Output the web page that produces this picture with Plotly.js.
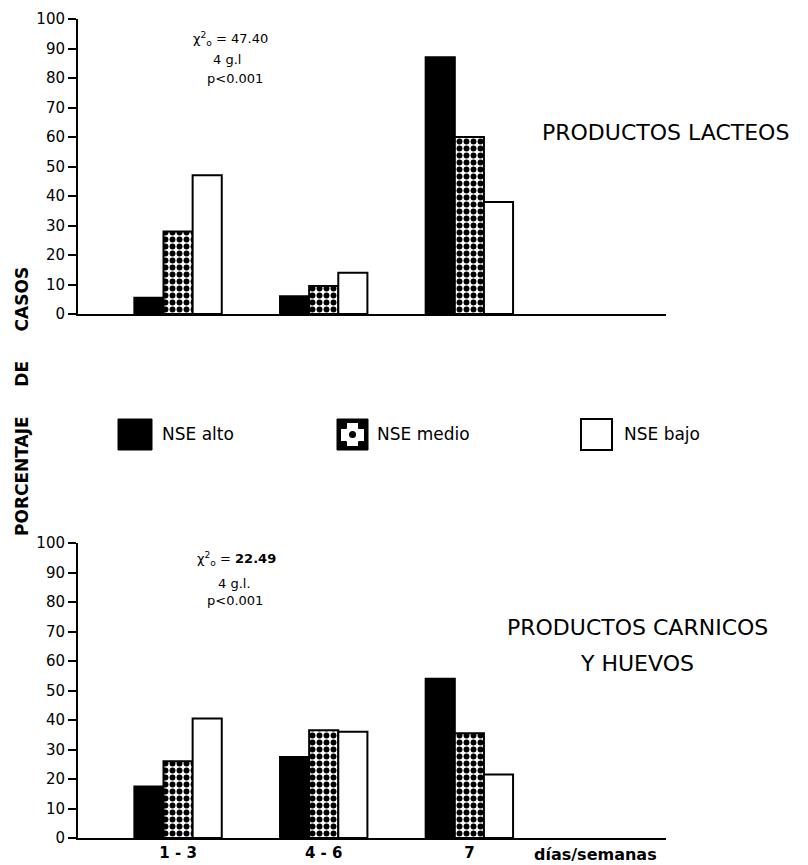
<!DOCTYPE html>
<html>
<head>
<meta charset="utf-8">
<script src="https://cdn.plot.ly/plotly-3.0.1.min.js"></script>
<style>html,body{margin:0;padding:0;background:#fff;}</style>
</head>
<body>
<div id="chart" style="width:808px;height:865px;"></div>
<script>
// ---- data ----
const categories = ['1 - 3', '4 - 6', '7'];
const seriesNames = ['NSE alto', 'NSE medio', 'NSE bajo'];
const lacteosAlto = [5.5, 6, 87];
const lacteosMedio = [28, 9.5, 60];
const lacteosBajo = [47, 14, 38];
const carnicosAlto = [17.5, 27.5, 54];
const carnicosMedio = [26, 36.5, 35.5];
const carnicosBajo = [40.5, 36, 21.5];
const yTicks = [0, 10, 20, 30, 40, 50, 60, 70, 80, 90, 100];
const titleLacteos = ['PRODUCTOS LACTEOS'];
const titleCarnicos = ['PRODUCTOS CARNICOS', 'Y HUEVOS'];
const statsLacteos = ['χ<sup>2</sup><sub>o</sub> = 47.40', '4 g.l', 'p<0.001'];
const statsCarnicos = ['χ<sup>2</sup><sub>o</sub> = <b>22.49</b>', '4 g.l.', 'p<0.001'];
const yLabel = 'PORCENTAJE\u00a0\u00a0\u00a0\u00a0\u00a0DE\u00a0\u00a0\u00a0\u00a0\u00a0CASOS';
const xUnitLabel = 'días/semanas';

// ---- layout helpers (pixel -> paper) ----
const W = 808, H = 865;
const M = {l: 78, r: 142, t: 19, b: 27};
const PW = W - M.l - M.r, PH = H - M.t - M.b;
const px = x => (x - M.l) / PW;
const py = y => (H - M.b - y) / PH;

const FONT = 'DejaVu Sans';
const styles = [
  {color: '#000', line: {color: '#000', width: 2}},
  {color: '#fff', line: {color: '#000', width: 2},
   pattern: {shape: '.', fgcolor: '#000', bgcolor: '#fff', size: 7, solidity: 0.55, fillmode: 'replace'}},
  {color: '#fff', line: {color: '#000', width: 2}}
];

function bars(vals, i, xa, ya) {
  return {
    type: 'bar', x: categories, y: vals, name: seriesNames[i],
    xaxis: xa, yaxis: ya, marker: styles[i], showlegend: false,
    hoverinfo: 'skip'
  };
}

const data = [
  bars(lacteosAlto, 0, 'x', 'y'), bars(lacteosMedio, 1, 'x', 'y'), bars(lacteosBajo, 2, 'x', 'y'),
  bars(carnicosAlto, 0, 'x2', 'y2'), bars(carnicosMedio, 1, 'x2', 'y2'), bars(carnicosBajo, 2, 'x2', 'y2')
];

const xRange = [-0.687, 3.35];
const xBase = {
  type: 'category', range: xRange, showline: true, linewidth: 2, linecolor: '#000',
  showgrid: false, zeroline: false, ticks: '', fixedrange: true
};
const yBase = {
  range: [0, 100], tickvals: yTicks, ticks: 'outside', ticklen: 8, tickwidth: 2, tickcolor: '#000',
  showline: true, linewidth: 2, linecolor: '#000', showgrid: false, zeroline: false,
  tickfont: {family: FONT, size: 15, color: '#000'}, fixedrange: true
};

const annFont = {family: FONT, size: 13, color: '#000'};
const annotations = [];
function ann(text, x, y, opts) {
  annotations.push(Object.assign({
    text: text, xref: 'paper', yref: 'paper', x: px(x), y: py(y),
    showarrow: false, xanchor: 'left', yanchor: 'middle', font: annFont
  }, opts || {}));
}
// stats
ann(statsLacteos[0], 191, 39);
ann(statsLacteos[1], 211, 59);
ann(statsLacteos[2], 205, 79);
ann(statsCarnicos[0], 195, 559);
ann(statsCarnicos[1], 216, 583);
ann(statsCarnicos[2], 205, 601);
// panel titles
const titleFont = {family: FONT, size: 22, color: '#000'};
ann(titleLacteos[0], 665, 133, {xanchor: 'center', font: titleFont});
ann(titleCarnicos[0], 637, 627, {xanchor: 'center', font: titleFont});
ann(titleCarnicos[1], 637, 663, {xanchor: 'center', font: titleFont});
// y label
ann(yLabel, 22, 402, {xanchor: 'center', textangle: -90, font: {family: FONT, size: 17, color: '#000', weight: 'bold'}});
// x unit
ann(xUnitLabel, 595, 854, {xanchor: 'center', font: {family: FONT, size: 16, color: '#000', weight: 'bold'}});
// legend labels
const legFont = {family: FONT, size: 17, color: '#000'};
ann(seriesNames[0], 160, 434, {font: legFont});
ann(seriesNames[1], 375, 434, {font: legFont});
ann(seriesNames[2], 622, 434, {font: legFont});

// legend swatches
function rectPx(x0, y0, x1, y1, fill, lineW) {
  return {type: 'rect', xref: 'paper', yref: 'paper', x0: px(x0), x1: px(x1), y0: py(y1), y1: py(y0),
    fillcolor: fill, line: {color: '#000', width: lineW}};
}
function circPx(x0, y0, x1, y1, fill) {
  return {type: 'circle', xref: 'paper', yref: 'paper', x0: px(x0), x1: px(x1), y0: py(y1), y1: py(y0),
    fillcolor: fill, line: {width: 0}};
}
const shapes = [
  rectPx(118, 419, 152, 450, '#000', 1),
  rectPx(337, 419, 368, 450, '#000', 1),
  rectPx(341, 429, 364, 441, '#fff', 0),
  rectPx(347, 423, 358, 446, '#fff', 0),
  circPx(344, 426, 361, 444, '#fff'),
  circPx(349, 431, 356, 438, '#000'),
  rectPx(581, 419, 612, 450, '#fff', 2)
];

const layout = {
  width: W, height: H, margin: M,
  paper_bgcolor: '#fff', plot_bgcolor: '#fff',
  font: {family: FONT, color: '#000'},
  barmode: 'group', bargap: 0.4, bargroupgap: 0,
  showlegend: false,
  xaxis: Object.assign({}, xBase, {domain: [0, 1], anchor: 'y', showticklabels: false}),
  yaxis: Object.assign({}, yBase, {domain: [py(314), 1], anchor: 'x'}),
  xaxis2: Object.assign({}, xBase, {domain: [0, 1], anchor: 'y2', showticklabels: true,
    tickfont: {family: FONT, size: 15, color: '#000', weight: 'bold'}}),
  yaxis2: Object.assign({}, yBase, {domain: [0, py(543)], anchor: 'x2'}),
  annotations: annotations,
  shapes: shapes
};

Plotly.newPlot('chart', data, layout, {displayModeBar: false, staticPlot: true});
</script>
</body>
</html>
